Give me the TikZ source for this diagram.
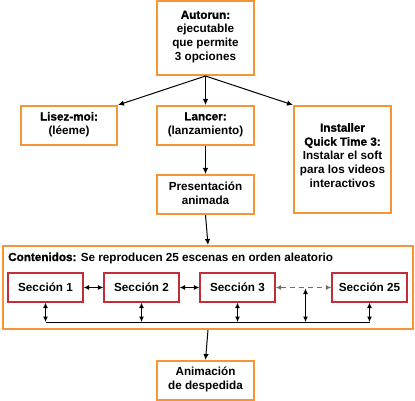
\documentclass[tikz,border=0pt]{standalone}
\usepackage{fontspec}
\setmainfont{Liberation Sans}
\newfontfamily\heavyfont[FakeBold=1.2]{Liberation Sans Bold}
\usetikzlibrary{arrows.meta}
\definecolor{boxorange}{RGB}{247,148,52}
\definecolor{secred}{RGB}{196,45,55}
\definecolor{dashgray}{RGB}{110,110,110}
\begin{document}
\begin{tikzpicture}[x=1pt,y=-1pt,
  obox/.style={draw=boxorange, line width=2pt, fill=white, inner sep=0pt},
  sbox/.style={draw=secred, line width=1.2pt, fill=white, minimum width=75pt, minimum height=29pt, inner sep=0pt,
     font=\fontsize{11.7}{14}\selectfont\bfseries},
  txt/.style={align=center, inner sep=0pt, font=\fontsize{11.7}{14}\selectfont\bfseries},
  conn/.style={line width=1pt, -{Latex[length=6pt,width=5.5pt]}},
  dconn/.style={line width=1pt, {Latex[length=5.5pt,width=5pt]}-{Latex[length=5.5pt,width=5pt]}},
]
\useasboundingbox (0,0) rectangle (415,401);
% boxes
\node[obox, minimum width=97pt, minimum height=74pt] (auto) at (205.5,38) {};
\node[txt] (autot) at (205.5,37) {{\heavyfont Autorun:}\\ejecutable\\que permite\\3 opciones};
\node[obox, minimum width=96pt, minimum height=39pt] (lise) at (69,125.5) {};
\node[txt] (liset) at (69,124.5) {{\heavyfont Lisez-moi:}\\(léeme)};
\node[obox, minimum width=97pt, minimum height=39pt] (lanc) at (205.5,125.5) {};
\node[txt] (lanct) at (205.5,124.5) {{\heavyfont Lancer:}\\(lanzamiento)};
\node[obox, minimum width=97pt, minimum height=107pt] (inst) at (342.5,159.5) {};
\node[txt] (instt) at (342.5,155.5) {{\heavyfont Installer}\\{\heavyfont Quick Time 3:}\\Instalar el soft\\para los videos\\interactivos};
\node[obox, minimum width=97pt, minimum height=39pt] (pres) at (205.5,194.5) {};
\node[txt] (prest) at (205.5,193.5) {Presentación\\animada};
\node[obox, minimum width=410pt, minimum height=83pt] (cont) at (208,287.5) {};
\node[txt, anchor=west] (contt) at (8,258) {{\heavyfont Contenidos:} Se reproducen 25 escenas en orden aleatorio};
\node[obox, minimum width=97pt, minimum height=39pt] (anim) at (205.5,380.5) {};
\node[txt] (animt) at (205.5,379.5) {Animación\\de despedida};
% sections
\node[sbox] (s1) at (45.5,287.5) {Sección 1};
\node[sbox] (s2) at (141.5,287.5) {Sección 2};
\node[sbox] (s3) at (237.5,287.5) {Sección 3};
\node[sbox] (s25) at (369.5,287.5) {Sección 25};
% top connectors
\coordinate (autob) at (205.5,76);
\draw[conn] (autob) -- (lise.north east);
\draw[conn] (autob) -- (lanc.north);
\draw[conn] (autob) -- (inst.north west);
\draw[conn] (lanc.south) -- (pres.north);
\draw[conn] (pres.south) -- (cont.north);
\draw[conn] (cont.south) -- (anim.north);
% section connectors
\draw[dconn] (s1.east) -- (s2.west);
\draw[dconn] (s2.east) -- (s3.west);
\draw[dconn, dashgray, line width=1.2pt, dash pattern=on 5pt off 4pt] (s3.east) -- (s25.west);
\coordinate (b1) at (45.5,322);
\coordinate (b2) at (141.5,322);
\coordinate (b3) at (237.5,322);
\coordinate (bd) at (305.5,322);
\coordinate (dtop) at (305.5,288.5);
\coordinate (b25) at (369.5,322);
\draw[line width=1pt] (b1) -- (b25);
\draw[dconn] (s1.south) -- (b1);
\draw[dconn] (s2.south) -- (b2);
\draw[dconn] (s3.south) -- (b3);
\draw[dconn] (s25.south) -- (b25);
\draw[dconn] (dtop) -- (bd);
\end{tikzpicture}
\end{document}
